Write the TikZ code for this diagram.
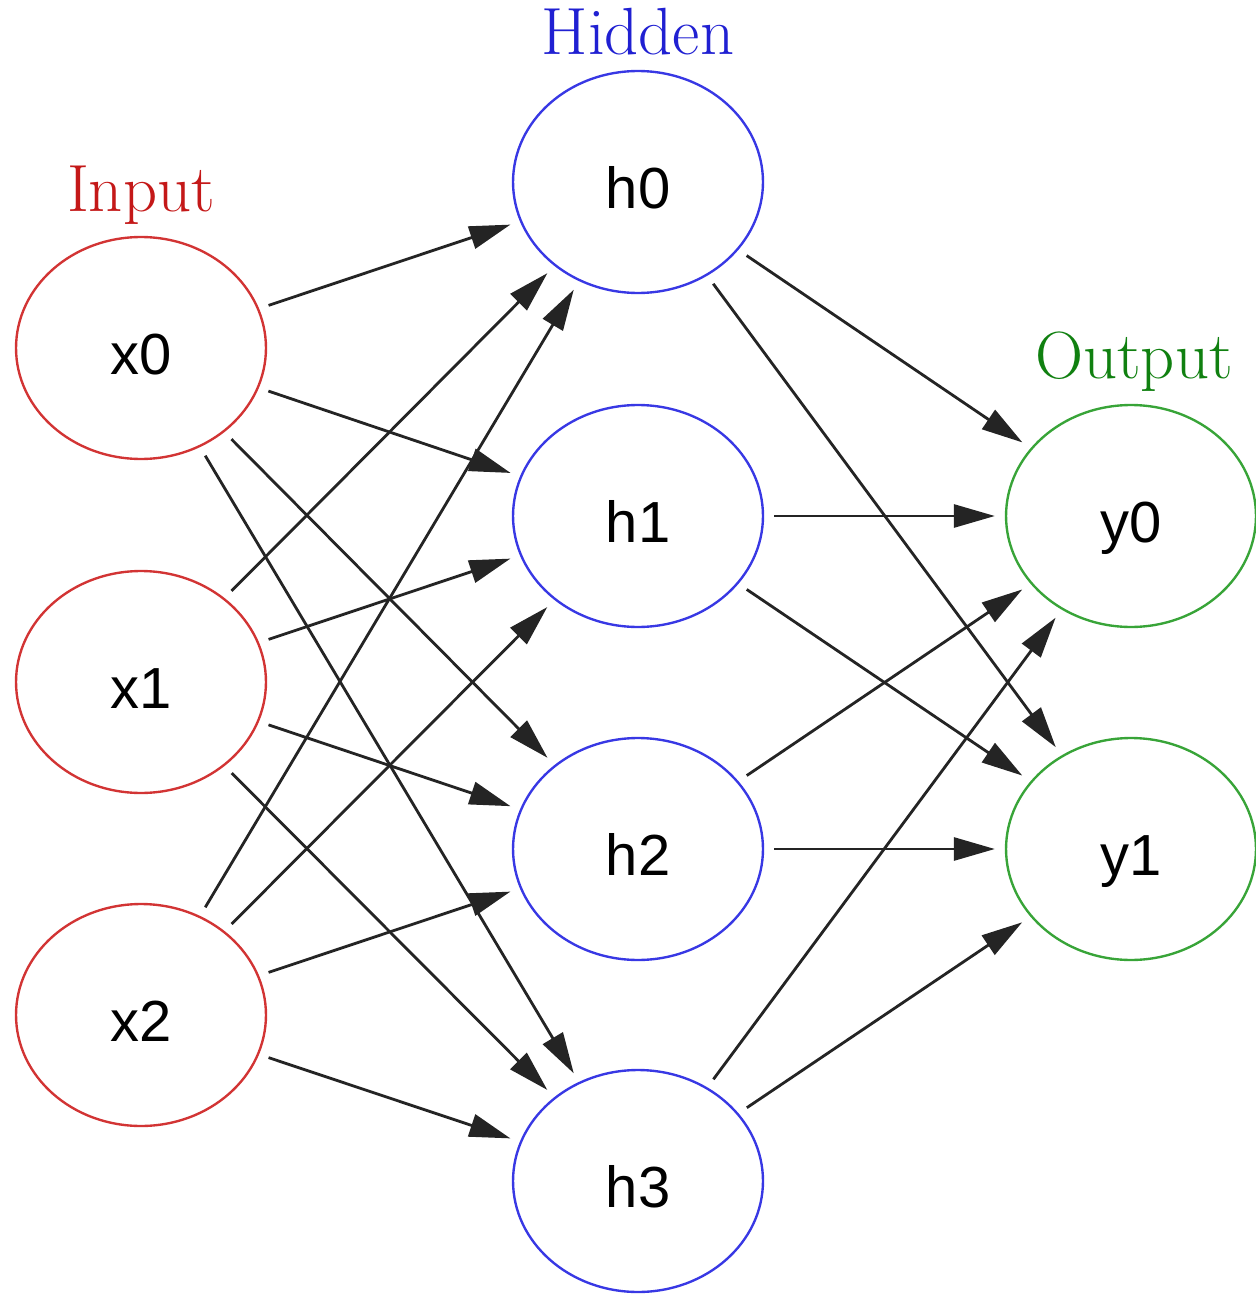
\documentclass[tikz,border=0pt]{standalone}
\usepackage{fontspec}
\newfontfamily\nodefont{Liberation Sans}
\usetikzlibrary{shapes.geometric,arrows.meta}
\definecolor{inred}{RGB}{210,52,52}
\definecolor{intext}{RGB}{196,24,24}
\definecolor{hidblue}{RGB}{56,56,228}
\definecolor{hidtext}{RGB}{32,32,210}
\definecolor{outgreen}{RGB}{56,164,56}
\definecolor{outtext}{RGB}{16,128,16}
\definecolor{edgecol}{RGB}{36,36,36}
\tikzset{
  neuron/.style={ellipse, draw, line width=1.35pt, minimum width=5cm, minimum height=4.44cm,
    inner sep=0pt, font=\nodefont\fontsize{33}{38}\selectfont, text=black,
    text height=1.07cm, text depth=0cm},
  innode/.style={neuron, draw=inred},
  hidnode/.style={neuron, draw=hidblue},
  outnode/.style={neuron, draw=outgreen},
  title/.style={anchor=base, font=\fontsize{38}{44}\selectfont},
  conn/.style={draw=edgecol, line width=1.6pt, shorten <=0.2cm, shorten >=0.2cm,
    -{Triangle[length=0.82cm,width=0.46cm]}}
}
\begin{document}
\begin{tikzpicture}[x=0.02cm,y=-0.02cm]
\useasboundingbox (0,0) rectangle (1255,1294);
\node[innode] (x0) at (141,348) {x0};
\node[innode] (x1) at (141,682) {x1};
\node[innode] (x2) at (141,1015) {x2};
\node[hidnode] (h0) at (638,182) {h0};
\node[hidnode] (h1) at (638,516) {h1};
\node[hidnode] (h2) at (638,849) {h2};
\node[hidnode] (h3) at (638,1181) {h3};
\node[outnode] (y0) at (1131,516) {y0};
\node[outnode] (y1) at (1131,849) {y1};
\node[title, text=intext] (tin) at (141,212) {Input};
\node[title, text=hidtext] (thid) at (638,55) {Hidden};
\node[title, text=outtext] (tout) at (1134,378) {Output};
\foreach \i in {x0,x1,x2}{
  \foreach \j in {h0,h1,h2,h3}{
    \draw[conn] (\i) -- (\j);
  }
}
\foreach \j in {h0,h1,h2,h3}{
  \foreach \k in {y0,y1}{
    \draw[conn] (\j) -- (\k);
  }
}
\end{tikzpicture}
\end{document}
